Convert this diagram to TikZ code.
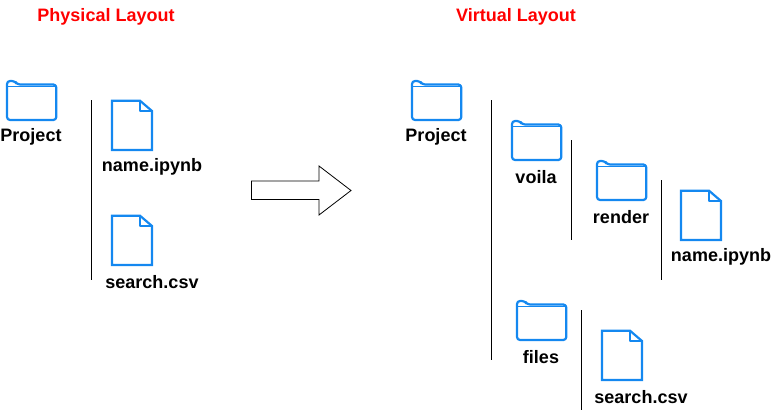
\documentclass[tikz,border=0pt]{standalone}
\usepackage{fontspec}
\setmainfont{Liberation Sans}
\definecolor{iconblue}{RGB}{20,136,240}
\tikzset{
  iconline/.style={draw=iconblue,line width=2.2pt,line join=round},
  rulebar/.style={draw=black,line width=0.9pt},
  itemlabel/.style={inner sep=0pt,outer sep=0pt,font=\bfseries\fontsize{18}{21}\selectfont},
  titlelabel/.style={inner sep=0pt,outer sep=0pt,text=red,font=\bfseries\fontsize{18}{21}\selectfont},
  folder/.pic={
    \path[iconline,rounded corners=3pt] (1,39) -- (1,0) -- (9,0) -- (11,3.5) -- (50.3,3.5) -- (50.3,39) -- cycle;
    \path[iconline,line width=1.6pt] (1,5.5) -- (50.3,5.5);
  },
  docfile/.pic={
    \path[iconline,line join=miter] (1,0.7) -- (29,0.7) -- (41,11) -- (41,50) -- (1,50) -- cycle;
    \path[iconline,line width=1.5pt] (29,0.7) -- (29,11) -- (41,11);
  }
}
\begin{document}
\begin{tikzpicture}[x=1pt,y=-1pt]
\path[use as bounding box] (0,0) rectangle (771,412);
\node[titlelabel] (physical) at (106,17) {Physical Layout};
\node[titlelabel] (virtual) at (516,17) {Virtual Layout};
% left tree
\pic at (6,81) {folder};
\node[itemlabel] (project) at (31,137) {Project};
\draw[rulebar] (91.5,100) -- (91.5,280);
\pic at (111,100) {docfile};
\node[itemlabel] (name) at (152,167) {name.ipynb};
\pic at (111,215) {docfile};
\node[itemlabel] (search) at (152,282) {search.csv};
% big arrow
\draw[black,line width=0.8pt,fill=white] (251.5,181) -- (319,181) -- (319,166) -- (351,190.5) -- (319,215) -- (319,199.5) -- (251.5,199.5) -- cycle;
% right tree
\pic at (411,81) {folder};
\node[itemlabel] (vproject) at (436,137) {Project};
\draw[rulebar] (491.5,100) -- (491.5,360);
\pic at (511,121) {folder};
\node[itemlabel] (voila) at (536,177) {voila};
\draw[rulebar] (571.5,140) -- (571.5,240);
\pic at (596,161) {folder};
\node[itemlabel] (render) at (621,217) {render};
\draw[rulebar] (661.5,180) -- (661.5,280);
\pic at (680,190) {docfile};
\node[itemlabel] (vname) at (721,257) {name.ipynb};
\pic at (516,301) {folder};
\node[itemlabel] (files) at (541,357) {files};
\draw[rulebar] (581.5,310) -- (581.5,410);
\pic at (601,330) {docfile};
\node[itemlabel] (vsearch) at (641,397) {search.csv};
\end{tikzpicture}
\end{document}
